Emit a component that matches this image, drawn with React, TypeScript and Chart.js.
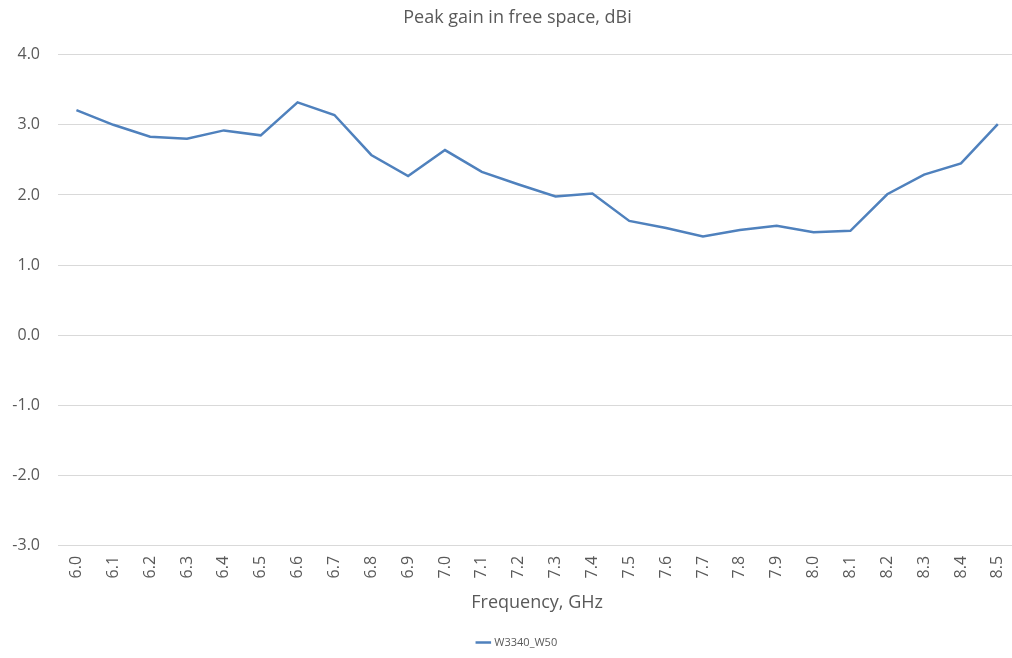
import React, { useEffect, useRef } from "react";
import { Chart, registerables } from "chart.js";

Chart.register(...registerables);

const categories: string[] = [
  "6.0", "6.1", "6.2", "6.3", "6.4", "6.5", "6.6", "6.7", "6.8", "6.9",
  "7.0", "7.1", "7.2", "7.3", "7.4", "7.5", "7.6", "7.7", "7.8", "7.9",
  "8.0", "8.1", "8.2", "8.3", "8.4", "8.5",
];

const gainValues: number[] = [
  3.21, 3.0, 2.83, 2.8, 2.92, 2.85, 3.32, 3.14, 2.57, 2.27,
  2.64, 2.33, 2.15, 1.98, 2.02, 1.63, 1.53, 1.41, 1.5, 1.56,
  1.47, 1.49, 2.01, 2.29, 2.45, 3.01,
];

const seriesName = "W3340_W50";
const chartTitle = "Peak gain in free space, dBi";
const xTitle = "Frequency, GHz";
const yMin = -3;
const yMax = 4;

const FONT = "'Open Sans', 'Noto Sans', sans-serif";
const GREY = "#595959";

export default function App() {
  const ref = useRef<HTMLCanvasElement | null>(null);

  useEffect(() => {
    document.body.style.margin = "0";
    if (!ref.current) return;
    const chart = new Chart(ref.current, {
      type: "line",
      data: {
        labels: categories,
        datasets: [
          {
            label: seriesName,
            data: gainValues,
            borderColor: "#4f81bd",
            backgroundColor: "#4f81bd",
            borderWidth: 2.5,
            pointRadius: 0,
            tension: 0,
          },
        ],
      },
      options: {
        animation: false,
        responsive: false,
        maintainAspectRatio: false,
        layout: { padding: { left: 8, right: 0, top: 7, bottom: 0 } },
        plugins: {
          title: {
            display: true,
            text: chartTitle,
            color: GREY,
            font: { family: FONT, size: 18, weight: "normal" },
            padding: { top: 0, bottom: 26 },
          },
          legend: {
            position: "bottom",
            labels: {
              color: GREY,
              font: { family: FONT, size: 11 },
              usePointStyle: true,
              pointStyle: "line",
              boxWidth: 28,
              padding: 10,
            },
          },
          tooltip: { enabled: false },
        },
        scales: {
          x: {
            type: "category",
            offset: true,
            grid: { display: false, drawTicks: false },
            border: { display: false },
            ticks: {
              color: GREY,
              font: { family: FONT, size: 16 },
              minRotation: 90,
              maxRotation: 90,
              padding: 10,
            },
            title: {
              display: true,
              text: xTitle,
              color: GREY,
              font: { family: FONT, size: 18 },
              padding: { top: 4, bottom: 13 },
            },
          },
          y: {
            min: yMin,
            max: yMax,
            grid: { color: "#d9d9d9", drawTicks: false, lineWidth: 1 },
            border: { display: false },
            afterFit: (s: any) => {
              s.width = 50;
            },
            ticks: {
              stepSize: 1,
              color: GREY,
              font: { family: FONT, size: 16 },
              padding: 18,
              callback: (v: any) => Number(v).toFixed(1),
            },
          },
        },
      },
    });
    return () => chart.destroy();
  }, []);

  return (
    <div style={{ width: 1012, height: 658, overflow: "hidden" }}>
      <canvas ref={ref} width={1027} height={658} style={{ display: "block" }} />
    </div>
  );
}
